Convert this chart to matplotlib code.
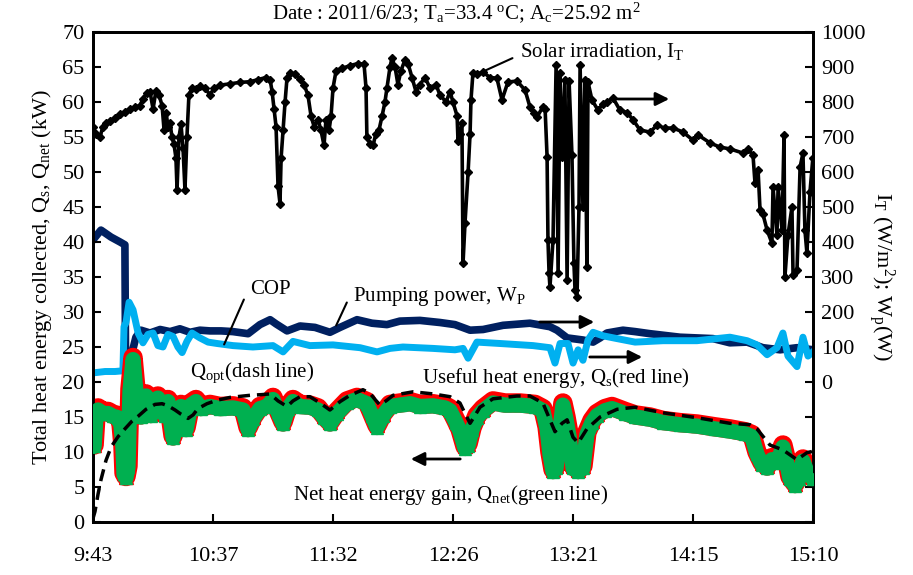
import matplotlib
matplotlib.use("Agg")
import matplotlib.pyplot as plt
import numpy as np

plt.rcParams['font.family'] = ['Liberation Serif', 'DejaVu Serif']
plt.rcParams['mathtext.default'] = 'regular'

# ---- x ticks (minutes after 9:43) ----
tick_labels = ["9:43", "10:37", "11:32", "12:26", "13:21", "14:15", "15:10"]
x_end = 327.27

# ---- Solar irradiation I_T (W/m2) ----
irr_t = [0, 1.4, 3.2, 4.5, 5.9, 7.7, 10, 12.3, 14.5, 16.8, 19.1, 21.4, 22.7, 24.5, 25.9, 27.3,
         28.6, 30, 31.4, 32.3, 33.2, 34.1, 35, 35.9, 36.8, 37.7, 38.2, 39.1, 40, 40.9, 41.8,
         42.7, 43.6, 45, 46.8, 48.6, 50.9, 53.2, 55, 57.7, 62.3, 66.8, 71.4, 75, 78.6, 80.5,
         81.4, 82.3, 83.2, 84.1, 85, 85.5, 86.4, 87.3, 88.2, 89.5, 91.8, 94.1, 95.9, 97.7,
         99.1, 100.5, 102.3, 103.6, 105, 105.9, 107.3, 108.2, 109.1, 110.5, 113.2, 116.8,
         120.5, 123.2, 124.1, 124.5, 125.9, 127.3, 128.6, 130, 131.4, 132.7, 133.6, 135,
         135.9, 137.3, 138.6, 140, 141.8, 143.2, 145, 146.8, 148.6, 150.9, 153.2, 155.9,
         157.7, 160.5, 162.3, 163.6, 165.5, 165.9, 166.8, 167.7, 168.2, 169.1, 170.5, 171.4,
         171.8, 172.7, 174.5, 177.3, 180.5, 183.6, 185.9, 188.6, 192.7, 196.4, 198.6, 200.5,
         201.8, 204.5, 205.5, 206.4, 206.8, 207.3, 207.7, 209.1, 210.5, 211.4, 212.3, 213.2,
         214.5, 215.5, 216.4, 217.7, 218.6, 219.1, 220, 220.9, 221.4, 222.7, 223.6, 224.5,
         225, 226.8, 229.5, 231.8, 233.6, 236.4, 239.5, 242.7, 245.5, 248.6, 253.2, 256.4,
         260, 263.6, 268.2, 272.7, 275, 280.5, 285, 289.5, 295.5, 297.7, 300, 300.9, 302.3,
         303.2, 304.5, 306.4, 308.6, 309.1, 310.9, 311.4, 313.2, 314.1, 314.5, 315.9, 317.7,
         318.2, 320, 321.4, 322.7, 323.6, 324.5, 325.9, 327.2]
irr_v = [730, 710, 700, 730, 740, 745, 755, 765, 772, 780, 785, 790, 810, 826, 830, 780,
         832, 820, 790, 720, 770, 730, 740, 700, 680, 640, 550, 700, 736, 670, 550,
         700, 820, 840, 836, 846, 840, 820, 840, 848, 852, 856, 858, 864, 870, 864,
         830, 780, 730, 560, 510, 640, 720, 800, 870, 884, 880, 866, 850, 820,
         760, 730, 750, 720, 676, 750, 720, 760, 840, 890, 896, 904,
         910, 908, 840, 700, 680, 676, 710, 720, 760, 800, 840, 900,
         926, 900, 850, 890, 920, 910, 870, 830, 850, 870, 840, 850,
         820, 800, 830, 800, 760, 690, 710, 740, 340, 455, 600, 710,
         805, 883, 880, 885, 870, 868, 806, 857, 860, 834, 786, 770,
         757, 786, 780, 643, 406, 311, 271, 406, 906, 311, 883, 643,
         863, 291, 860, 650, 340, 263, 244, 500, 906, 500, 863, 329,
         857, 806, 777, 795, 800, 811, 777, 770, 749, 720, 714, 734,
         725, 726, 714, 691, 706, 683, 671, 666, 654, 666, 648, 569, 606,
         491, 480, 434, 397, 557, 420, 557, 434, 706, 300, 420, 500,
         306, 320, 614, 654, 434, 369, 543, 640]

# ---- Pumping power W_P (W) ----
pump_t = [0, 3.6, 8.2, 12.3, 14.5, 14.8, 17.3, 19.5, 21.8, 25.9, 30.5, 35, 39.5, 44.1, 48.6,
          53.2, 58.2, 63.6, 70.5, 75.9, 80.5, 83.2, 88.2, 94.1, 100.9, 107.7, 112.3, 120,
          126.8, 133.6, 139.5, 148.6, 157.7, 164.5, 171.4, 177.3, 186.4, 198.6, 207.7, 210.9,
          215.5, 222.7, 227.3, 230.5, 233.6, 240.9, 246.4, 253.2, 266.8, 281.8, 289.5, 297.3,
          304.5, 312.3, 320, 327.2]
pump_v = [406, 434, 414, 400, 392, 54, 72, 128, 148, 140, 150, 144, 152, 142, 148,
          146, 146, 144, 138, 164, 178, 166, 146, 160, 156, 142, 156, 178,
          168, 164, 174, 176, 170, 164, 148, 150, 162, 168, 158, 148,
          126, 120, 114, 126, 140, 148, 144, 138, 128, 124, 112, 114,
          98, 92, 98, 92]

# ---- COP (plotted on right axis scale) ----
cop_t = [0, 5.5, 10, 13.6, 14.1, 15, 16.4, 18.2, 20.5, 22.7, 25, 27.3, 29.5, 31.8, 34.1,
         36.4, 38.6, 40.5, 42.7, 45, 48.6, 52.3, 56.4, 63.6, 72.7, 81.8, 86.4, 90.9, 98.6,
         109.1, 121.4, 129.1, 135, 140.9, 154.5, 164.5, 168.2, 170.5, 174.5, 185, 200, 207.7,
         210, 212.3, 215.9, 218.2, 220.5, 222.7, 225, 227.3, 231.8, 238.2, 246.4, 259.1,
         274.5, 289.5, 297.3, 301.8, 306.4, 310.9, 313.6, 315.9, 320, 322.7, 325, 327.2]
cop_v = [26, 30, 30, 32, 158, 170, 228, 206, 140, 112, 136, 140, 104, 100, 136,
         130, 100, 84, 116, 140, 126, 114, 110, 104, 100, 104, 86, 116, 104,
         106, 98, 86, 96, 100, 96, 92, 96, 68, 114, 110, 104, 98,
         54, 110, 110, 54, 92, 62, 120, 142, 132, 124, 114, 118,
         118, 128, 118, 106, 78, 98, 140, 74, 44, 128, 74, 86]

# ---- Useful heat energy Q_s and net heat gain Q_net (kW) ----
q_t = [0, 0.5, 1.4, 2.3, 4.5, 6.8, 9.1, 11.4, 12.7, 13.6, 14.1, 15, 15.9, 16.8, 18.2, 19.5,
       20.5, 21.8, 24.1, 26.4, 29.5, 32.7, 34.1, 36.4, 38.6, 40, 42.3, 44.5, 46.8, 49.1,
       53.2, 57.7, 63.6, 68.2, 70.5, 72.7, 75.9, 79.1, 81.8, 84.1, 86.4, 88.6, 90.9, 94.1,
       98.6, 102.3, 105, 107.7, 110.9, 115.5, 120, 124.5, 126.8, 129.1, 131.8, 135, 139.5,
       144.1, 148.6, 154.5, 160, 162.3, 165, 166.8, 169.1, 170.5, 172.3, 174.5, 177.3,
       181.8, 187.3, 194.1, 200.9, 204.5, 206.4, 207.7, 209.1, 210.5, 212.3, 213.6, 215,
       216.4, 218.2, 220.5, 222.7, 224.5, 226.8, 229.1, 232.7, 235.9, 241.8, 246.4, 253.2,
       259.1, 266.8, 274.5, 282.7, 289.5, 296.4, 299.5, 301.8, 304.1, 306.4, 308.6, 310.9,
       313.6, 315.5, 316.8, 319.1, 320.9, 322.7, 324.5, 327.2]
qs_v = [11.5, 11, 15.5, 16.3, 15.8, 15.8, 15.4, 15.2, 14.2, 11, 7, 6.5, 8, 19, 23.5, 19,
        16, 15.3, 18.3, 15.5, 18, 15.5, 17.5, 12.3, 15.3, 16.8, 13.5, 17, 17.5, 16.5,
        16.8, 16.5, 16.6, 16.3, 13.5, 15, 16.5, 16.8, 17.8, 16, 14.3, 16.5, 17.5, 16.8,
        16.7, 16.3, 15.2, 14.3, 15.8, 17.3, 17.8, 17.2, 15.5, 13.8, 15.5, 16.8, 17,
        17.2, 16.8, 16.9, 16.6, 16.2, 14.5, 13.3, 10.8, 11.2, 13.5, 15.2, 16.2,
        17.3, 17, 17, 16.8, 16.2, 13.6, 10, 7.5, 8, 13.6, 17, 15,
        12.5, 8, 7.5, 8, 12.8, 14.5, 15.5, 16.2, 16.5, 15.8, 15.3, 15,
        14.5, 14.2, 14, 13.6, 13.3, 12.9, 12.5, 10, 8.5, 8, 9.2, 8.8,
        11, 8.5, 6.5, 5.5, 6.5, 9, 7.5, 6.5]
qnet_v = [11.3, 10.8, 15.3, 16.0, 15.5, 15.5, 15.1, 14.9, 13.9, 10.8, 6.8, 6.3, 7.8, 18.7, 23.2, 18.7,
          15.7, 15.0, 18.0, 15.2, 17.7, 15.2, 17.2, 12.0, 15.0, 16.5, 13.2, 16.7, 17.2, 16.2,
          16.5, 16.2, 16.3, 16.0, 13.2, 14.7, 16.2, 16.5, 17.5, 15.7, 14.0, 16.2, 17.2, 16.5,
          16.4, 16.0, 14.9, 14.0, 15.5, 17.0, 17.5, 16.9, 15.2, 13.5, 15.2, 16.5, 16.7,
          16.9, 16.5, 16.6, 16.3, 15.9, 14.2, 13.0, 10.5, 10.9, 13.2, 14.9, 15.9,
          17.0, 16.7, 16.7, 16.5, 15.9, 13.3, 9.7, 7.2, 7.7, 13.3, 16.7, 14.7,
          12.2, 7.7, 7.2, 7.7, 12.5, 14.2, 15.2, 15.9, 16.2, 15.5, 15.0, 14.7,
          14.2, 13.9, 13.7, 13.3, 13.0, 12.6, 12.2, 9.7, 8.2, 7.7, 8.9, 8.5,
          10.7, 8.2, 6.2, 5.2, 6.2, 8.7, 7.2, 6.2]

# ---- Q_opt (kW, dashed) ----
qopt_t = [0, 0.9, 2.3, 3.6, 5.9, 8.2, 11.4, 14.5, 17.7, 20.5, 24.1, 28.2, 31.4, 34.1, 37.3,
          40, 43.2, 45.5, 47.7, 51.8, 56.4, 62.3, 71.4, 76.8, 80.5, 84.1, 88.2, 90.9, 94.1,
          98.6, 103.2, 107.7, 112.3, 116.8, 122.7, 125.9, 128.2, 130.5, 133.6, 136.4, 145.5,
          154.5, 162.3, 166.8, 169.1, 171.4, 173.6, 175.9, 181.8, 192.7, 198.6, 204.5, 207.7,
          210, 213.2, 215.5, 218.2, 220.5, 224.5, 230.5, 238.2, 246.4, 259.1, 274.5, 289.5,
          298.6, 301.8, 307.7, 313.6, 320, 324.5, 327.2]
qopt_v = [0.5, 1.5, 4, 6, 8.8, 10.7, 12.2, 13.3, 14.4, 15.1, 16.1, 16.8, 16.9, 16.6, 16,
          15.4, 14.8, 15.3, 16.2, 16.9, 17.4, 17.8, 18.1, 18.2, 18.3, 17.3, 16.5, 17.3, 17.9,
          17.9, 17.0, 16.0, 17.2, 18.1, 18.9, 18.4, 17.5, 16.7, 17.4, 18.1, 18.6,
          18.3, 17.9, 17.0, 15.5, 14.1, 15.2, 16.4, 17.6, 18.0, 18.0, 17.0, 14.6,
          12.9, 14.1, 14.6, 12.1, 11.3, 13.3, 15.0, 16.1, 16.4, 15.6, 14.9, 14.1,
          13.9, 13.3, 11.0, 10.3, 8.9, 9.9, 10.1]

W, H = 913, 575
fig = plt.figure(figsize=(W / 100, H / 100), dpi=100)
L, R, T, B = 93, 813, 32, 522
ax = fig.add_axes([L / W, 1 - B / H, (R - L) / W, (B - T) / H])
ax2 = ax.twinx()

# right axis series
ax2.plot(irr_t, irr_v, color='black', lw=2.6, marker='D', ms=4.5, zorder=3)
ax2.plot(pump_t, pump_v, color='#002060', lw=5.5, solid_joinstyle='round', zorder=2)
ax2.plot(cop_t, cop_v, color='#00B0F0', lw=5, solid_joinstyle='round', zorder=2)
ax2.set_ylim(-400, 1000)
ax2.set_yticks(np.arange(-400, 1001, 100))
ax2.set_yticklabels(['' if v < 0 else str(v) for v in range(-400, 1001, 100)])

# left axis series
ax.set_zorder(ax2.get_zorder() + 1)
ax.patch.set_visible(False)
ax.plot(q_t, qs_v, color='#FF0000', lw=14, solid_joinstyle='round', solid_capstyle='round',
        marker='^', ms=10, mfc='#FF0000', mec='#FF0000', zorder=2)
ax.plot(q_t, qnet_v, color='#00B050', lw=11, solid_joinstyle='round', solid_capstyle='round',
        marker='^', ms=8, mfc='#00B050', mec='#00B050', zorder=3)
ax.plot(qopt_t, qopt_v, color='black', lw=2.5, ls=(0, (3.5, 2)), zorder=4)
ax.set_ylim(0, 70)
ax.set_yticks(np.arange(0, 71, 5))
ax.set_xlim(0, x_end)
ax.set_xticks(np.linspace(0, x_end, 7))
ax.set_xticklabels(tick_labels)

for a in (ax, ax2):
    for s in a.spines.values():
        s.set_linewidth(2)
    a.tick_params(direction='in', length=6, width=1.5, labelsize=16)
ax.tick_params(axis='x', pad=18)
ax.tick_params(axis='y', pad=6)
ax2.tick_params(axis='y', pad=6)

ax.set_ylabel('Total heat energy collected, Q$_s$, Q$_{net}$ (kW)', fontsize=16, labelpad=6)
ax2.set_ylabel('I$_T$ (W/m$^2$); W$_p$(W)', fontsize=16, rotation=270, labelpad=22)

fig.text(0.5, 1 - 13 / H, 'Date : 2011/6/23; T$_a$=33.4 $^o$C; A$_c$=25.92 m$^2$',
         ha='center', va='center', fontsize=15)

def axf(px, py):
    return ((px - L) / (R - L), (B - py) / (B - T))

fs = 15
ax.text(*axf(520, 52), 'Solar irradiation, I$_T$', transform=ax.transAxes, fontsize=fs, va='center')
ax.annotate('', xy=axf(482, 72), xytext=axf(515, 57), xycoords='axes fraction',
            arrowprops=dict(arrowstyle='-', lw=1.5, color='k'))
ax.annotate('', xy=axf(672, 99), xytext=axf(615, 99), xycoords='axes fraction',
            arrowprops=dict(arrowstyle='-|>', lw=2, color='k', mutation_scale=20))
ax.text(*axf(250, 290), 'COP', transform=ax.transAxes, fontsize=fs, va='center')
ax.annotate('', xy=axf(223, 347), xytext=axf(245, 297), xycoords='axes fraction',
            arrowprops=dict(arrowstyle='-', lw=1.5, color='k'))
ax.text(*axf(353, 297), 'Pumping power, W$_P$', transform=ax.transAxes, fontsize=fs, va='center')
ax.annotate('', xy=axf(335, 328), xytext=axf(348, 300), xycoords='axes fraction',
            arrowprops=dict(arrowstyle='-', lw=1.5, color='k'))
ax.annotate('', xy=axf(597, 322), xytext=axf(537, 322), xycoords='axes fraction',
            arrowprops=dict(arrowstyle='-|>', lw=2, color='k', mutation_scale=20))
ax.annotate('', xy=axf(645, 357), xytext=axf(587, 357), xycoords='axes fraction',
            arrowprops=dict(arrowstyle='-|>', lw=2, color='k', mutation_scale=20))
ax.text(*axf(190, 373), 'Q$_{opt}$(dash line)', transform=ax.transAxes, fontsize=fs, va='center')
ax.text(*axf(422, 378), 'Useful heat energy, Q$_s$(red line)', transform=ax.transAxes, fontsize=fs, va='center')
ax.annotate('', xy=axf(408, 459), xytext=axf(463, 459), xycoords='axes fraction',
            arrowprops=dict(arrowstyle='-|>', lw=2, color='k', mutation_scale=20))
ax.text(*axf(293, 495), 'Net heat energy gain, Q$_{net}$(green line)', transform=ax.transAxes, fontsize=fs, va='center')

fig.savefig('out.png', dpi=100)
